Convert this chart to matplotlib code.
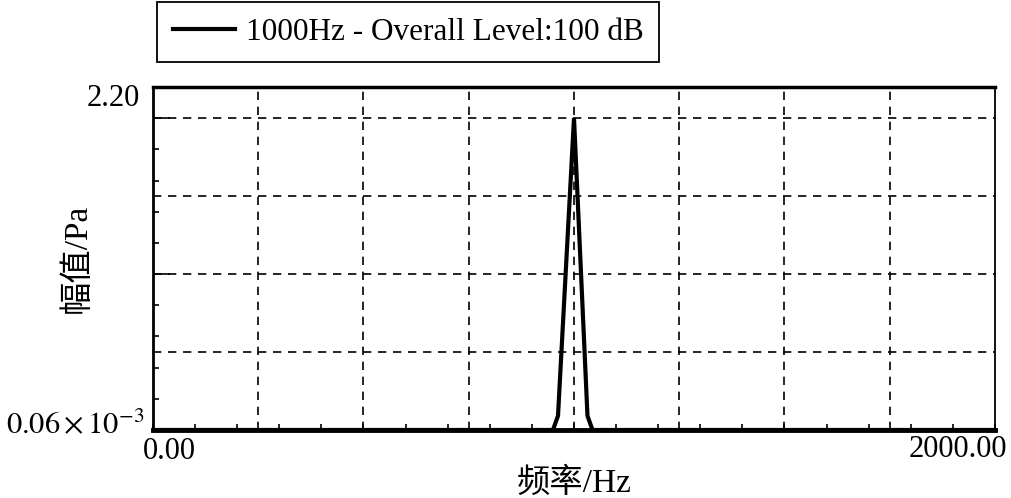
import matplotlib
matplotlib.use("Agg")
import matplotlib.pyplot as plt
from matplotlib.ticker import MultipleLocator, FixedLocator, NullFormatter

# ---- data ----
freq_hz = [0, 950, 962, 1000, 1032, 1044, 2000]
amp_pa = [0.00006, 0.00006, 0.10, 2.20, 0.10, 0.00006, 0.00006]
series_label = "1000Hz - Overall Level:100 dB"
x_grid = [250, 500, 750, 1000, 1250, 1500, 1750]
y_grid = [0.55, 1.10, 1.65, 2.20]
y_major = [1.10, 2.20]
x_tick_labels = ["0.00", "2000.00"]
y_top_label = "2.20"
y_bottom_label = r"$0.06\times10^{-3}$"
xlabel = "频率/Hz"
ylabel = "幅值/Pa"

plt.rcParams['font.family'] = ['Liberation Serif', 'Noto Sans CJK SC']
plt.rcParams['mathtext.fontset'] = 'stix'
FS = 22

W, H = 1012, 498
fig = plt.figure(figsize=(W / 100, H / 100), dpi=100)
L, R, B, T = 153, 995, 430, 87
ax = fig.add_axes([L / W, 1 - B / H, (R - L) / W, (B - T) / H])

ax.set_xlim(0, 2000)
ax.set_ylim(0, 2.42)

for gx in x_grid:
    ax.axvline(gx, color='black', lw=1.2, ls=(0, (5, 4)), zorder=1)
for gy in y_grid:
    ax.axhline(gy, color='black', lw=1.2, ls=(0, (5, 4)), zorder=1)

ax.plot(freq_hz, amp_pa, color='black', lw=3.0, solid_joinstyle='miter',
        label=series_label, zorder=3)

# ticks
ax.xaxis.set_major_locator(FixedLocator([]))
ax.xaxis.set_minor_locator(MultipleLocator(100))
ax.xaxis.set_minor_formatter(NullFormatter())
ax.yaxis.set_major_locator(FixedLocator(y_major))
ax.yaxis.set_major_formatter(NullFormatter())
ax.yaxis.set_minor_locator(MultipleLocator(0.22))
ax.yaxis.set_minor_formatter(NullFormatter())
ax.tick_params(axis='y', which='major', direction='in', length=12.5, width=1.2, left=True)
ax.tick_params(axis='both', which='minor', direction='in', length=4, width=1.2)
ax.tick_params(axis='x', which='minor', bottom=True, top=False)
ax.tick_params(axis='y', which='minor', left=True, right=False)

for s in ['top', 'bottom', 'left', 'right']:
    ax.spines[s].set_color('black')
ax.spines['bottom'].set_linewidth(3.5)
ax.spines['top'].set_linewidth(2.5)
ax.spines['left'].set_linewidth(2.0)
ax.spines['right'].set_linewidth(1.3)

# tick labels placed as in the reference
ax.annotate(x_tick_labels[0], xy=(0, 0), xycoords='axes fraction',
            xytext=(-10, -7), textcoords='offset pixels',
            ha='left', va='top', fontsize=FS)
ax.annotate(x_tick_labels[1], xy=(1, 0), xycoords='axes fraction',
            xytext=(12, -5), textcoords='offset pixels',
            ha='right', va='top', fontsize=FS)
ax.annotate(y_top_label, xy=(0, 1), xycoords='axes fraction',
            xytext=(-13, -11), textcoords='offset pixels',
            ha='right', va='center', fontsize=FS)
ax.annotate(y_bottom_label, xy=(0, 0), xycoords='axes fraction',
            xytext=(-8, -3), textcoords='offset pixels',
            ha='right', va='baseline', fontsize=FS)

ax.set_xlabel(xlabel, fontsize=24, labelpad=24)
ax.set_ylabel(ylabel, fontsize=24, labelpad=40)

leg = ax.legend(loc='upper left', bbox_to_anchor=(157 / W, 1 - 2 / H),
                bbox_transform=fig.transFigure, fontsize=22.5, frameon=True,
                fancybox=False, edgecolor='black', framealpha=1,
                handlelength=2.0, handletextpad=0.35, borderpad=0.5,
                borderaxespad=0)
leg.get_frame().set_linewidth(1.3)

fig.savefig("out.png", dpi=100)
